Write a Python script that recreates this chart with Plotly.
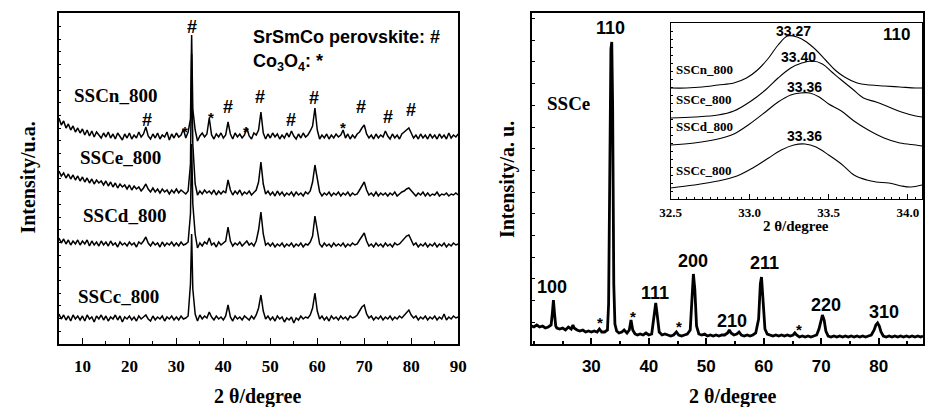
import plotly.graph_objects as go

# ---------------- LEFT PANEL: four XRD patterns (offset, arbitrary units) ----------------
two_theta_left = [
    5, 5.5, 6, 6.5, 7, 7.5, 8, 8.5, 9, 9.5,
    10, 10.5, 11, 11.5, 12, 12.5, 13, 13.5, 14, 14.5,
    15, 15.5, 16, 16.5, 17, 17.5, 18, 18.5, 19, 19.5,
    20, 20.5, 21, 21.5, 22, 22.5, 23, 23.5, 24, 24.5,
    25, 25.5, 26, 26.5, 27, 27.5, 28, 28.5, 29, 29.5,
    30, 30.5, 31, 31.5, 32, 32.5, 33, 33.25, 33.5, 34, 34.5,
    35, 35.5, 36, 36.5, 37, 37.5, 38, 38.5, 39, 39.5,
    40, 40.5, 41, 41.5, 42, 42.5, 43, 43.5, 44, 44.5,
    45, 45.5, 46, 46.5, 47, 47.5, 48, 48.5, 49, 49.5,
    50, 50.5, 51, 51.5, 52, 52.5, 53, 53.5, 54, 54.5,
    55, 55.5, 56, 56.5, 57, 57.5, 58, 58.5, 59, 59.5,
    60, 60.5, 61, 61.5, 62, 62.5, 63, 63.5, 64, 64.5,
    65, 65.5, 66, 66.5, 67, 67.5, 68, 68.5, 69, 69.5,
    70, 70.5, 71, 71.5, 72, 72.5, 73, 73.5, 74, 74.5,
    75, 75.5, 76, 76.5, 77, 77.5, 78, 78.5, 79, 79.5,
    80, 80.5, 81, 81.5, 82, 82.5, 83, 83.5, 84, 84.5,
    85, 85.5, 86, 86.5, 87, 87.5, 88, 88.5, 89, 89.5,
    90,
]

ssc_n = [
    226, 219, 223, 216, 220, 214, 218, 212, 216, 211,
    215, 209, 214, 208, 213, 207, 212, 209, 206, 211,
    207, 212, 206, 210, 205, 211, 207, 204, 210, 206,
    211, 205, 209, 206, 212, 207, 210, 217, 208, 205,
    210, 206, 211, 205, 209, 207, 212, 204, 210, 206,
    211, 207, 209, 215, 206, 212, 225, 309, 235, 214, 203,
    208, 211, 207, 210, 226, 209, 205, 210, 207, 211,
    206, 209, 222, 210, 205, 211, 207, 210, 206, 209,
    216, 208, 205, 211, 209, 214, 232, 211, 205, 210,
    206, 211, 207, 210, 205, 209, 206, 211, 207, 213,
    208, 205, 210, 206, 211, 207, 209, 213, 218, 236,
    214, 205, 209, 206, 210, 205, 209, 206, 210, 207,
    209, 214, 206, 210, 205, 209, 206, 210, 212, 216,
    219, 210, 206, 209, 205, 210, 206, 209, 207, 213,
    208, 205, 210, 206, 209, 205, 210, 212, 214, 216,
    211, 206, 209, 205, 210, 206, 209, 205, 210, 206,
    209, 205, 210, 206, 209, 205, 211, 206, 209, 207,
    210,
]

ssc_e = [
    173, 168, 171, 166, 170, 165, 169, 164, 168, 163,
    167, 162, 166, 161, 165, 160, 164, 161, 163, 159,
    163, 158, 162, 157, 161, 156, 160, 157, 159, 155,
    159, 154, 158, 155, 157, 153, 156, 160, 155, 152,
    156, 152, 155, 151, 155, 152, 154, 150, 154, 151,
    155, 151, 154, 152, 150, 153, 180, 290, 200, 160, 149,
    153, 150, 154, 151, 153, 150, 154, 149, 153, 150,
    153, 151, 164, 154, 149, 153, 150, 154, 149, 152,
    150, 153, 149, 152, 154, 162, 182, 160, 150, 153,
    149, 152, 148, 153, 149, 152, 148, 151, 149, 152,
    148, 152, 149, 151, 148, 152, 150, 153, 162, 179,
    165, 152, 148, 151, 149, 152, 148, 151, 149, 152,
    148, 151, 149, 152, 148, 151, 149, 150, 154, 158,
    162, 154, 149, 151, 148, 152, 148, 151, 149, 151,
    148, 151, 149, 152, 148, 150, 152, 153, 155, 156,
    153, 150, 148, 151, 149, 152, 148, 151, 148, 150,
    149, 152, 148, 150, 149, 151, 148, 150, 149, 151,
    149,
]

ssc_d = [
    106, 101, 105, 100, 104, 99, 103, 100, 104, 99,
    103, 100, 104, 98, 103, 99, 102, 98, 103, 99,
    102, 98, 103, 99, 101, 97, 102, 99, 101, 98,
    102, 99, 101, 97, 102, 100, 103, 107, 101, 98,
    102, 99, 101, 97, 102, 98, 101, 99, 102, 98,
    101, 98, 102, 99, 100, 102, 130, 200, 140, 110, 96,
    101, 98, 102, 100, 106, 99, 101, 97, 102, 99,
    101, 103, 117, 103, 98, 101, 99, 102, 98, 101,
    103, 99, 101, 98, 103, 114, 132, 110, 99, 101,
    98, 101, 97, 100, 98, 101, 97, 100, 98, 101,
    97, 100, 98, 101, 97, 100, 99, 102, 108, 128,
    112, 100, 97, 101, 98, 100, 97, 101, 98, 100,
    98, 101, 97, 100, 98, 101, 99, 100, 104, 108,
    111, 103, 98, 100, 97, 101, 98, 100, 97, 101,
    98, 100, 97, 101, 99, 100, 103, 105, 108, 109,
    104, 99, 101, 97, 100, 98, 101, 97, 100, 98,
    101, 97, 100, 98, 101, 97, 100, 98, 101, 99,
    100,
]

ssc_c = [
    30, 25, 29, 24, 28, 23, 29, 25, 28, 24,
    28, 23, 29, 25, 27, 22, 28, 25, 29, 24,
    28, 23, 27, 25, 29, 24, 28, 22, 27, 25,
    28, 24, 27, 23, 28, 25, 27, 29, 25, 23,
    28, 24, 27, 25, 28, 23, 27, 25, 28, 24,
    27, 24, 28, 25, 26, 28, 60, 110, 55, 30, 23,
    29, 25, 28, 26, 32, 27, 24, 28, 25, 27,
    24, 28, 39, 27, 23, 28, 25, 27, 24, 28,
    26, 24, 28, 25, 29, 36, 49, 33, 25, 28,
    24, 27, 23, 28, 25, 27, 22, 26, 24, 27,
    21, 26, 24, 28, 25, 27, 26, 29, 36, 51,
    33, 25, 28, 24, 27, 23, 28, 25, 27, 24,
    28, 25, 27, 24, 28, 26, 27, 29, 33, 37,
    39, 30, 26, 28, 24, 27, 25, 28, 24, 27,
    25, 28, 24, 27, 25, 28, 26, 29, 31, 34,
    29, 26, 28, 24, 27, 25, 28, 24, 27, 25,
    28, 24, 27, 25, 30, 24, 27, 25, 28, 26,
    27,
]

left_series = [ssc_n, ssc_e, ssc_d, ssc_c]
left_names = ["SSCn_800", "SSCe_800", "SSCd_800", "SSCc_800"]
left_name_x = [17.1, 18.1, 19.0, 17.7]
left_name_y = [249, 187, 129, 48]

hash_x = [33.3, 23.75, 41.0, 47.9, 54.5, 59.2, 69.4, 75.0, 79.85]
hash_y = [317, 224, 237, 247, 224, 246, 237, 227, 234]
star_x = [31.8, 37.3, 44.9, 65.5]
star_y = [213, 227, 213, 217]

left_xticks = [10, 20, 30, 40, 50, 60, 70, 80, 90]

# ---------------- RIGHT PANEL: SSCe pattern ----------------
two_theta_right = [
    19.6, 20, 20.5, 21, 21.5, 22, 22.5, 23, 23.2, 23.4, 23.6, 23.8, 24, 24.5, 25, 25.5,
    26, 26.5, 26.8, 27, 27.5, 28, 28.5, 29, 29.5, 30, 30.5, 31, 31.4, 31.8, 32.3, 32.8,
    33.0, 33.2, 33.4, 33.55, 33.7, 33.9, 34.1, 34.4, 34.8, 35.3, 35.7, 36.2, 36.6, 36.9,
    37.2, 37.6, 38, 38.5, 39, 39.5, 40, 40.5, 40.9, 41.2, 41.5, 41.8, 42.3, 42.8, 43.3,
    43.8, 44.3, 44.8, 45.2, 45.7, 46.2, 46.7, 47.2, 47.5, 47.75, 48.0, 48.3, 48.7, 49.2,
    49.7, 50.2, 50.7, 51.2, 51.7, 52.2, 52.7, 53.2, 53.7, 54.0, 54.3, 54.8, 55.3, 55.7,
    56.1, 56.6, 57.1, 57.6, 58.1, 58.6, 59.1, 59.4, 59.6, 59.9, 60.2, 60.6, 61.1, 61.6,
    62.1, 62.6, 63.1, 63.6, 64.1, 64.6, 65.1, 65.4, 65.7, 66.2, 66.7, 67.2, 67.7, 68.2,
    68.7, 69.2, 69.6, 69.9, 70.2, 70.5, 70.8, 71.2, 71.7, 72.2, 72.7, 73.2, 73.7, 74.2,
    74.7, 75.2, 75.7, 76.2, 76.7, 77.2, 77.7, 78.2, 78.7, 79.2, 79.5, 79.8, 80.1, 80.4,
    80.8, 81.3, 81.8, 82.3, 82.8, 83.3, 83.8, 84.3, 84.8, 85.3, 85.8, 86.3, 86.8, 87.3,
    87.7,
]
ssce_main = [
    18, 17, 19, 17, 18, 16, 17, 19, 30, 44, 30, 18, 16, 15, 16, 14,
    17, 15, 19, 16, 14, 13, 14, 12, 13, 12, 13, 12, 15, 12, 12, 14,
    40, 180, 295, 302, 240, 60, 20, 13, 11, 12, 14, 11, 14, 24,
    14, 10, 9, 10, 9, 11, 9, 10, 25, 41, 27, 12, 9, 10, 9,
    8, 9, 12, 9, 8, 9, 10, 14, 40, 70, 55, 18, 10, 9,
    10, 8, 9, 8, 9, 8, 9, 9, 11, 14, 11, 9, 10, 12,
    9, 8, 9, 8, 9, 11, 25, 60, 67, 45, 15, 10, 9, 8,
    9, 8, 9, 8, 9, 8, 9, 11, 9, 7, 8, 7, 8, 7,
    8, 9, 15, 24, 29, 24, 13, 8, 7, 8, 7, 8, 7, 8,
    7, 8, 7, 8, 7, 8, 7, 8, 9, 14, 19, 21, 18, 12,
    8, 7, 8, 7, 8, 7, 8, 7, 8, 7, 8, 7, 8, 7,
    8,
]
hkl_labels = ["110", "100", "111", "200", "210", "211", "220", "310"]
hkl_x = [33.4, 23.2, 41.1, 47.7, 54.4, 60.2, 70.9, 80.9]
hkl_y = [316, 57, 51, 83, 23, 81, 39, 32]
right_star_x = [31.5, 37.3, 45.2, 66.1]
right_star_y = [22, 28, 18, 15]
right_xticks = [30, 40, 50, 60, 70, 80]

# ---------------- INSET: (110) reflection ----------------
inset_n_x = [32.50, 32.60, 32.70, 32.80, 32.90, 32.98, 33.05, 33.12, 33.18, 33.24, 33.30,
             33.36, 33.42, 33.48, 33.54, 33.60, 33.68, 33.76, 33.85, 33.95, 34.05, 34.09]
inset_n_y = [111, 111, 112, 114, 116, 121, 129, 141, 154, 163, 162,
             157, 149, 139, 129, 122, 116, 114, 113, 112, 111, 111]
inset_e_x = [32.50, 32.65, 32.80, 32.90, 33.00, 33.10, 33.18, 33.26, 33.33, 33.40,
             33.46, 33.52, 33.58, 33.65, 33.72, 33.80, 33.88, 33.96, 34.05, 34.09]
inset_e_y = [81, 82, 84, 88, 97, 109, 121, 131, 136, 138,
             135, 127, 119, 110, 101, 97, 92, 87, 83, 82]
inset_d_x = [32.50, 32.65, 32.80, 32.90, 33.00, 33.10, 33.18, 33.26, 33.32, 33.38,
             33.44, 33.50, 33.58, 33.66, 33.75, 33.85, 33.95, 34.05, 34.09]
inset_d_y = [54, 56, 60, 65, 75, 87, 97, 104, 106, 106,
             102, 95, 88, 78, 69, 61, 56, 54, 53]
inset_c_x = [32.50, 32.65, 32.80, 32.92, 33.02, 33.12, 33.20, 33.28, 33.35, 33.42,
             33.50, 33.58, 33.66, 33.74, 33.80, 33.88, 33.96, 34.02, 34.09]
inset_c_y = [11, 14, 18, 23, 31, 41, 49, 54, 55, 52,
             44, 35, 24, 19, 17, 16, 13, 12, 14]
inset_names = ["SSCn_800", "SSCe_800", "SSCd_800", "SSCc_800"]
inset_name_y = [129, 99, 72, 29]
peak_pos_labels = ["33.27", "33.40", "33.36", "33.36"]
peak_pos_x = [33.28, 33.31, 33.35, 33.35]
peak_pos_y = [168, 142, 112, 63]
inset_xticks = [32.5, 33.0, 33.5, 34.0]
inset_xticktext = ["32.5", "33.0", "33.5", "34.0"]

# ---------------- figure ----------------
W, H = 932, 407
SERIF = "Liberation Serif, Times New Roman, serif"
SANS = "Liberation Sans, Arial, sans-serif"


def px_x(p):
    return p / W


def px_y(p):
    return 1 - p / H


fig = go.Figure()

for s in left_series:
    fig.add_trace(go.Scatter(x=two_theta_left, y=s, mode="lines",
                             line=dict(color="black", width=1.5),
                             xaxis="x", yaxis="y", showlegend=False, hoverinfo="skip"))

fig.add_trace(go.Scatter(x=two_theta_right, y=ssce_main, mode="lines",
                         line=dict(color="black", width=2.8),
                         xaxis="x2", yaxis="y2", showlegend=False, hoverinfo="skip"))

for xs, ys in [(inset_n_x, inset_n_y), (inset_e_x, inset_e_y),
               (inset_d_x, inset_d_y), (inset_c_x, inset_c_y)]:
    fig.add_trace(go.Scatter(x=xs, y=ys, mode="lines", line=dict(color="black", width=1.1),
                             line_shape="spline",
                             xaxis="x3", yaxis="y3", showlegend=False, hoverinfo="skip"))

ann = []


def text(x, y, t, xref, yref, family, size, xanchor="center", angle=0):
    ann.append(dict(x=x, y=y, text=t, xref=xref, yref=yref, showarrow=False,
                    xanchor=xanchor, yanchor="middle", textangle=angle,
                    font=dict(family=family, size=size, color="black", weight="bold")))


for n, xx, yy in zip(left_names, left_name_x, left_name_y):
    text(xx, yy, n, "x", "y", SERIF, 19)
for xx, yy in zip(hash_x, hash_y):
    text(xx, yy, "#", "x", "y", SANS, 18)
for xx, yy in zip(star_x, star_y):
    text(xx, yy, "*", "x", "y", SANS, 15)
text(45.8, 307, "SrSmCo perovskite: #", "x", "y", SANS, 18, xanchor="left")
text(45.8, 281, "Co<sub>3</sub>O<sub>4</sub>: *", "x", "y", SANS, 18, xanchor="left")

for t, xx, yy in zip(hkl_labels, hkl_x, hkl_y):
    text(xx, yy, t, "x2", "y2", SANS, 18)
for xx, yy in zip(right_star_x, right_star_y):
    text(xx, yy, "*", "x2", "y2", SANS, 15)
text(26.1, 241, "SSCe", "x2", "y2", SERIF, 19)

for n, yy in zip(inset_names, inset_name_y):
    text(32.52, yy, n, "x3", "y3", SERIF, 13, xanchor="left")
for t, xx, yy in zip(peak_pos_labels, peak_pos_x, peak_pos_y):
    text(xx, yy, t, "x3", "y3", SANS, 14)
text(33.93, 164, "110", "x3", "y3", SANS, 17)

# axis titles
text(px_x(18), px_y(178), "Intensity/u.a.", "paper", "paper", SERIF, 20, angle=-90)
text(px_x(252), px_y(396), "2 θ/degree", "paper", "paper", SERIF, 20)
text(px_x(507), px_y(180), "Intensity/a. u.", "paper", "paper", SERIF, 20, angle=-90)
text(px_x(737), px_y(396), "2 θ/degree", "paper", "paper", SERIF, 20)
text(px_x(802), px_y(226), "2 θ/degree", "paper", "paper", SERIF, 15)

common_x = dict(ticks="inside", showline=True, linecolor="black", mirror=True,
                showgrid=False, zeroline=False, tickcolor="black")
common_y = dict(ticks="inside", showline=True, linecolor="black", mirror=True,
                showgrid=False, zeroline=False, showticklabels=False, tickcolor="black")

fig.update_layout(
    width=W, height=H, margin=dict(l=0, r=0, t=0, b=0),
    paper_bgcolor="white", plot_bgcolor="white", showlegend=False,
    annotations=ann,
    xaxis=dict(domain=[px_x(49), px_x(457)], range=[5, 90], tickvals=left_xticks,
               ticklen=6, linewidth=1.5, tickwidth=1.3, ticklabelstandoff=6,
               tickfont=dict(family=SERIF, size=17, color="black", weight="bold"),
               minor=dict(ticks="inside", dtick=5, ticklen=3, tickcolor="black"),
               anchor="y", **common_x),
    yaxis=dict(domain=[px_y(344), px_y(13)], range=[0, 331], dtick=12.7, tick0=0,
               ticklen=2.5, linewidth=1.5, tickwidth=1, anchor="x", **common_y),
    xaxis2=dict(domain=[px_x(532), 1.0], range=[19.6, 87.7], tickvals=right_xticks,
                ticklen=6, linewidth=2, tickwidth=1.5, ticklabelstandoff=6,
                tickfont=dict(family=SANS, size=17, color="black", weight="bold"),
                minor=dict(ticks="inside", dtick=5, ticklen=3, tickcolor="black"),
                anchor="y2", **common_x),
    yaxis2=dict(domain=[px_y(344), px_y(13)], range=[0, 331], dtick=21.7, tick0=0,
                ticklen=3, linewidth=2, tickwidth=1, anchor="x2", **common_y),
    xaxis3=dict(domain=[px_x(674), px_x(931)], range=[32.5, 34.09], tickvals=inset_xticks,
                ticktext=inset_xticktext,
                ticklen=5, linewidth=1, tickwidth=1, ticklabelstandoff=1,
                tickfont=dict(family=SERIF, size=13, color="black", weight="bold"),
                minor=dict(ticks="inside", dtick=0.05, tick0=32.5, ticklen=2, tickcolor="black"),
                anchor="y3", **common_x),
    yaxis3=dict(domain=[px_y(199), px_y(23)], range=[0, 176], dtick=8, tick0=0,
                ticklen=2, linewidth=1, tickwidth=1, anchor="x3", **common_y),
)

fig.write_html("out.html")
